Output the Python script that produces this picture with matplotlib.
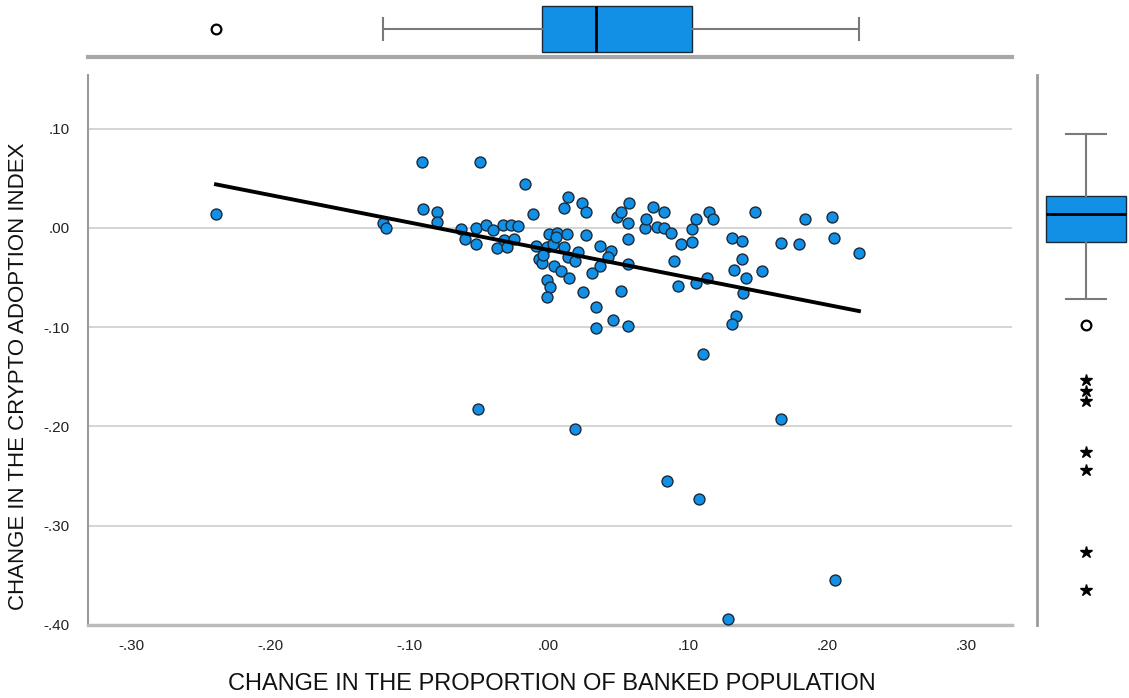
import numpy as np
import matplotlib
matplotlib.use("Agg")
import matplotlib.pyplot as plt

plt.rcParams['font.family'] = ['Liberation Sans Narrow', 'Liberation Sans', 'DejaVu Sans']

# change in proportion of banked population (x) vs change in crypto adoption index (y)
banked = [
    -0.239, -0.119, -0.117, -0.091, -0.090, -0.080, -0.080, -0.049, -0.017, -0.011,
    -0.063, -0.060, -0.052, -0.052, -0.045, -0.040, -0.037, -0.033, -0.027, -0.022,
    -0.032, -0.030, -0.025, -0.009, -0.007, -0.005, 0.000, 0.006, 0.013, 0.014,
    0.011, 0.024, 0.027, 0.027, 0.037, -0.001, 0.003, 0.011, -0.004, 0.014,
    0.019, 0.021, 0.004, 0.009, 0.015, -0.001, 0.001, -0.001, 0.025, 0.031,
    0.034, 0.034, 0.005, 0.045, 0.043, 0.037, 0.046, 0.057, 0.052, 0.057,
    0.057, 0.057, 0.049, 0.052, 0.058, 0.069, 0.070, 0.075, 0.078, 0.083,
    0.083, 0.088, 0.095, 0.090, 0.093, 0.103, 0.103, 0.106, 0.115, 0.118,
    0.114, 0.106, 0.132, 0.139, 0.139, 0.133, 0.142, 0.140, 0.153, 0.135,
    0.132, 0.148, 0.167, 0.180, 0.184, 0.204, 0.205, 0.223,
    -0.051, 0.019, 0.085, 0.108, 0.111, 0.167, 0.206, 0.129,
]
crypto = [
    0.014, 0.005, 0.000, 0.066, 0.019, 0.016, 0.006, 0.066, 0.044, 0.014,
    -0.001, -0.011, 0.000, -0.016, 0.003, -0.002, -0.020, 0.003, 0.003, 0.002,
    -0.012, -0.019, -0.011, -0.018, -0.031, -0.035, -0.006, -0.005, -0.006, 0.031,
    0.020, 0.025, 0.016, -0.007, -0.018, -0.019, -0.016, -0.019, -0.027, -0.029,
    -0.033, -0.024, -0.038, -0.043, -0.050, -0.052, -0.060, -0.070, -0.065, -0.045,
    -0.080, -0.101, -0.009, -0.023, -0.029, -0.038, -0.093, -0.099, -0.064, -0.036,
    -0.011, 0.005, 0.011, 0.016, 0.025, 0.000, 0.009, 0.021, 0.001, 0.000,
    0.016, -0.005, -0.016, -0.033, -0.059, -0.014, -0.001, 0.009, 0.016, 0.009,
    -0.050, -0.056, -0.010, -0.013, -0.031, -0.042, -0.050, -0.066, -0.043, -0.089,
    -0.097, 0.016, -0.015, -0.016, 0.009, 0.011, -0.010, -0.025,
    -0.182, -0.203, -0.255, -0.273, -0.127, -0.193, -0.355, -0.394,
]
xticks = [-0.30, -0.20, -0.10, 0.00, 0.10, 0.20, 0.30]
yticks = [-0.40, -0.30, -0.20, -0.10, 0.00, 0.10]
xlabel = "CHANGE IN THE PROPORTION OF BANKED POPULATION"
ylabel = "CHANGE IN THE CRYPTO ADOPTION INDEX"

x = np.array(banked)
y = np.array(crypto)

blue = '#1190e6'
axis_gray = '#9a9a9a'
xlim = (-0.331, 0.333)
ylim = (-0.400, 0.154)
right_shift = 0.029  # the marginal box on the right sits a bit higher than the scatter


def fmt(v):
    return f"{v:.2f}".replace("0.", ".", 1)


def tukey_stats(d):
    # SPSS style boxplot: Tukey hinges, 1.5 IQR whiskers
    s = np.sort(d)
    n = len(s)
    half = (n + 1) // 2
    q1 = np.median(s[:half])
    q3 = np.median(s[n - half:])
    iqr = q3 - q1
    lo, hi = q1 - 1.5 * iqr, q3 + 1.5 * iqr
    st = dict(med=np.median(s), q1=q1, q3=q3,
              whislo=s[s >= lo].min(), whishi=s[s <= hi].max(),
              fliers=s[(s < lo) | (s > hi)])
    return st, iqr


W, H = 1129, 698
fig = plt.figure(figsize=(W / 100, H / 100), dpi=100)

ax = fig.add_axes([88 / W, (H - 625) / H, 924 / W, 550 / H])
ax_top = fig.add_axes([88 / W, (H - 57) / H, 924 / W, 57 / H])
ax_right = fig.add_axes([1037 / W, (H - 625) / H, 92 / W, 550 / H])

# scatter + fit line
ax.scatter(x, y, s=62, color=blue, edgecolor='#1a2a3a', linewidth=1.0, zorder=3)
b1, b0 = np.polyfit(x, y, 1)
xs = np.array([x.min(), x.max()])
ax.plot(xs, b0 + b1 * xs, color='black', lw=2.8, zorder=4)

ax.set_xlim(*xlim)
ax.set_ylim(*ylim)
ax.set_xticks(xticks)
ax.set_yticks(yticks)
ax.set_xticklabels([fmt(v) for v in xticks], fontsize=11, color='#222222')
ax.set_yticklabels([fmt(v) for v in yticks], fontsize=11, color='#222222')
ax.tick_params(axis='x', length=0, pad=10)
ax.tick_params(axis='y', length=0, pad=13)
ax.grid(axis='y', color='#d4d4d4', lw=1.4)
ax.set_axisbelow(True)
for s in ['top', 'right']:
    ax.spines[s].set_visible(False)
ax.spines['left'].set_color(axis_gray)
ax.spines['left'].set_linewidth(1.5)
ax.spines['bottom'].set_color('#bbbbbb')
ax.spines['bottom'].set_linewidth(2.5)

fig.text(552 / W, 1 - 684 / H, xlabel, ha='center', va='center', fontsize=17, color='#111111')
fig.text(19 / W, 1 - 376 / H, ylabel, ha='center', va='center', rotation=90, fontsize=16,
         color='#111111')


def marginal_box(a, data, vert, pos, width, capw):
    st, iqr = tukey_stats(data)
    a.bxp([st], positions=[pos], widths=width, capwidths=capw, vert=vert, patch_artist=True,
          showfliers=False,
          boxprops=dict(facecolor=blue, edgecolor='#1a2a3a', lw=1.0),
          medianprops=dict(color='black', lw=2.0),
          whiskerprops=dict(color='#7a7a7a', lw=1.5),
          capprops=dict(color='#7a7a7a', lw=1.5))
    fl = st['fliers']
    far = (fl < st['q1'] - 3 * iqr) | (fl > st['q3'] + 3 * iqr)
    near = fl[~far]
    far = fl[far]
    if vert:
        a.plot(np.full(len(near), pos), near, 'o', mfc='white', mec='black', mew=1.6, ms=7)
        a.plot(np.full(len(far), pos), far, '*', color='black', ms=9)
    else:
        a.plot(near, np.full(len(near), pos), 'o', mfc='white', mec='black', mew=1.6, ms=7)
        a.plot(far, np.full(len(far), pos), '*', color='black', ms=9)


marginal_box(ax_top, x, False, 0.49, 0.81, 0.39)
ax_top.set_xlim(*xlim)
ax_top.set_ylim(0, 1)
ax_top.set_xticks([])
ax_top.set_yticks([])
for s in ['top', 'right', 'left']:
    ax_top.spines[s].set_visible(False)
ax_top.spines['bottom'].set_color('#a8a8a8')
ax_top.spines['bottom'].set_linewidth(3)
ax_top.patch.set_alpha(0)

marginal_box(ax_right, y, True, 0.533, 0.87, 0.435)
ax_right.set_xlim(0, 1)
ax_right.set_ylim(ylim[0] - right_shift, ylim[1] - right_shift)
ax_right.set_xticks([])
ax_right.set_yticks([])
for s in ['top', 'right', 'bottom']:
    ax_right.spines[s].set_visible(False)
ax_right.spines['left'].set_color(axis_gray)
ax_right.spines['left'].set_linewidth(2)
ax_right.patch.set_alpha(0)

fig.savefig('out.png', dpi=100)
